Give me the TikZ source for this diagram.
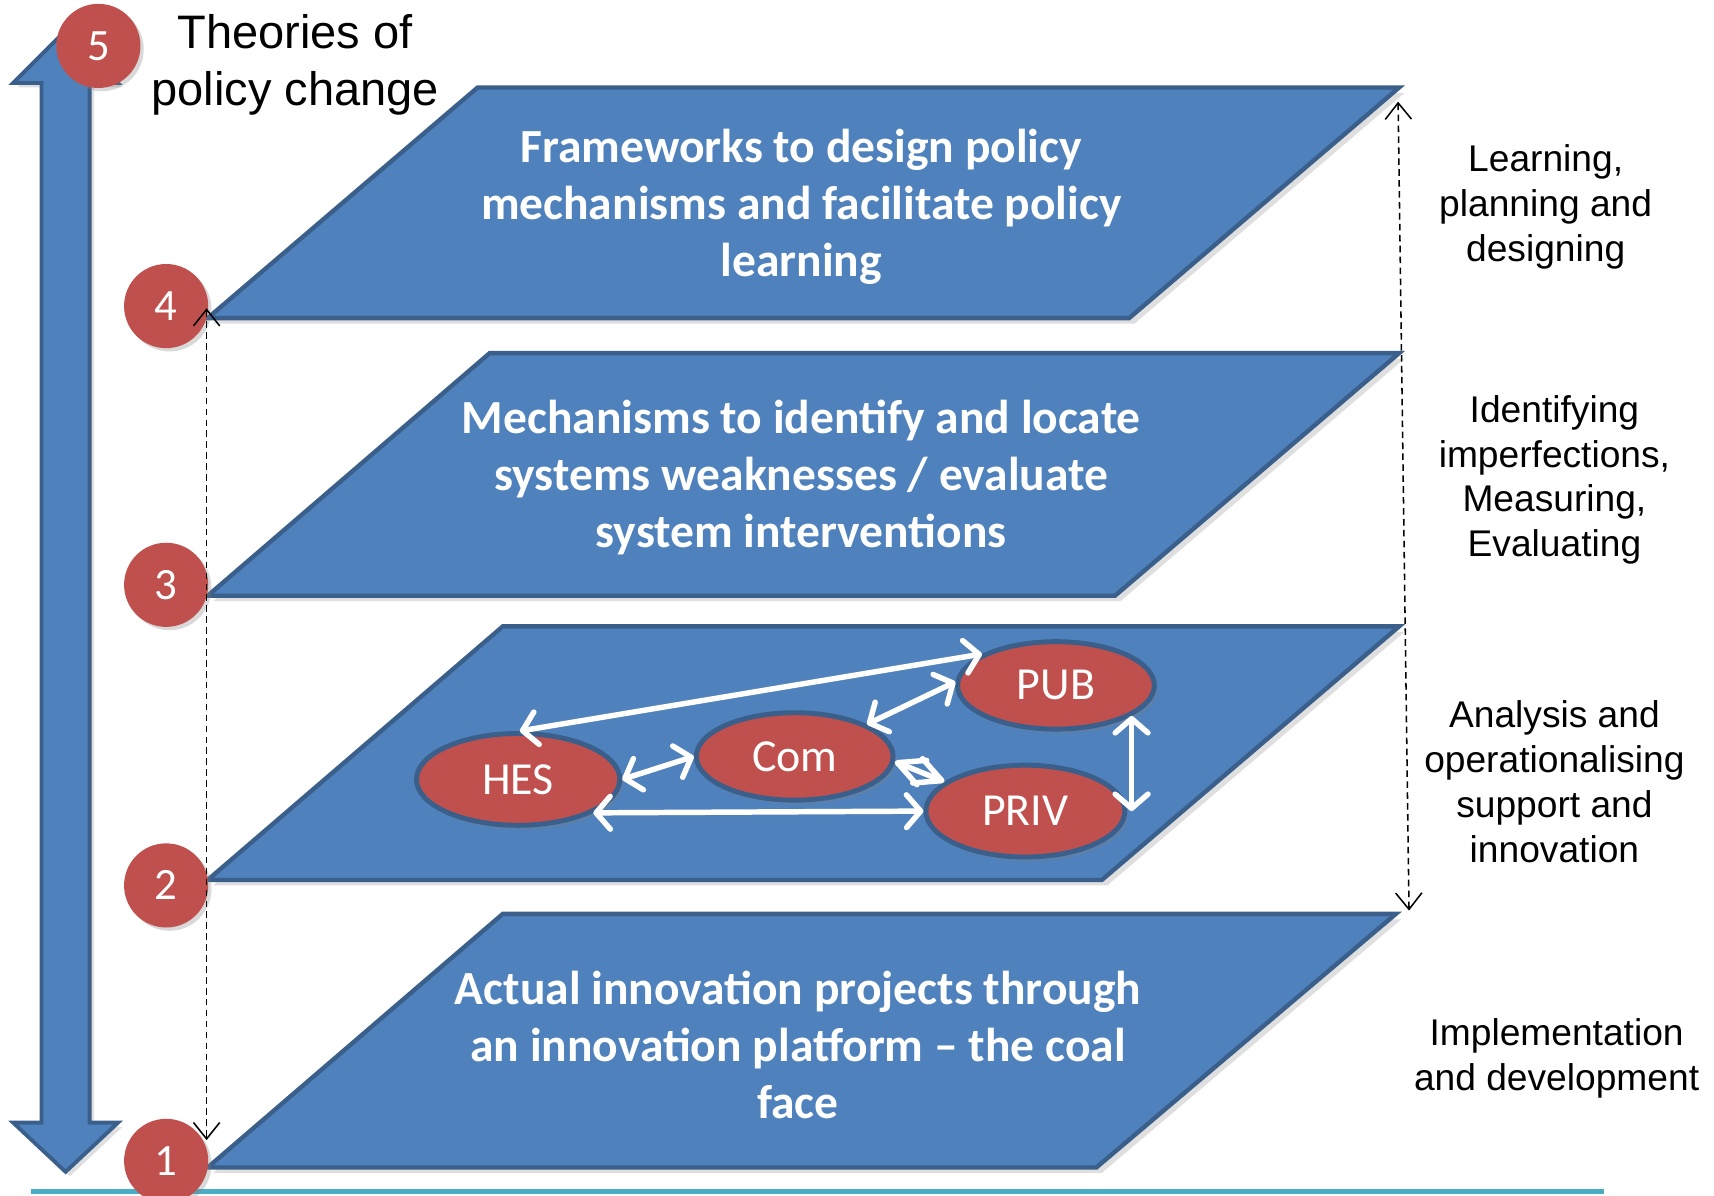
\documentclass[tikz,border=0pt]{standalone}
\usepackage{fontspec}
\setmainfont{Liberation Sans}
\newfontfamily\calfont{Carlito}
\usetikzlibrary{shapes.geometric,arrows.meta,shadows}
\definecolor{blueF}{HTML}{4F81BD}
\definecolor{blueD}{HTML}{3A5F8B}
\definecolor{redF}{HTML}{C0504D}
\definecolor{cyanL}{HTML}{4BACC6}
\tikzset{
  plate/.style={fill=blueF,draw=blueD,line width=4pt,line join=miter,
    drop shadow={opacity=0.25,shadow xshift=5pt,shadow yshift=-5pt}},
  platetext/.style={text=white,align=center,font=\calfont\bfseries\fontsize{43.5}{52}\selectfont},
  numdot/.style={circle,fill=redF,minimum size=77pt,inner sep=0pt,text=white,
    font=\calfont\fontsize{41}{48}\selectfont,
    drop shadow={opacity=0.3,shadow xshift=3pt,shadow yshift=-3pt}},
  actor/.style={ellipse,fill=redF,draw=blueD,line width=4.5pt,inner sep=0pt,text=white,
    font=\calfont\fontsize{42}{50}\selectfont,
    drop shadow={opacity=0.3,shadow xshift=3pt,shadow yshift=-4pt}},
  link/.style={white,line width=5pt,line cap=round,
    {Straight Barb[length=13pt,width=30pt,round]}-{Straight Barb[length=13pt,width=30pt,round]}},
  shortlink/.style={white,line width=5pt,line cap=round,
    {Straight Barb[length=24pt,width=24pt,round]}-{Straight Barb[length=24pt,width=24pt,round]}},
  guide/.style={black,line width=1.4pt,dash pattern=on 6pt off 4pt,
    {Straight Barb[length=15pt,width=24pt,line width=1.4pt]}-{Straight Barb[length=15pt,width=24pt,line width=1.4pt]}},
  sidelabel/.style={align=center,font=\fontsize{34}{41}\selectfont},
}
\begin{document}
\begin{tikzpicture}[x=1pt,y=-1pt]
\useasboundingbox (0,0) rectangle (1568,1094);
% bottom line
\draw[cyanL,line width=4pt] (28,1090) -- (1467,1090);
% big double arrow
\path[fill=blueF,draw=blueD,line width=3.5pt,line join=miter,
  drop shadow={opacity=0.25,shadow xshift=4pt,shadow yshift=-4pt}]
  (60,28) -- (108,76) -- (82,76) -- (82,1027) -- (108,1027) -- (60,1072)
  -- (12,1027) -- (38,1027) -- (38,76) -- (12,76) -- cycle;
% plates
\path[plate] (437,80) -- (1280,80) -- (1033,291) -- (190,291) -- cycle;
\path[plate] (448,323) -- (1280,323) -- (1020,545) -- (190,545) -- cycle;
\path[plate] (460,573) -- (1280,573) -- (1008,805) -- (190,805) -- cycle;
\path[plate] (460,836) -- (1277,836) -- (1003,1068) -- (190,1068) -- cycle;
% plate texts
\node[platetext] (t4) at (733,189) {Frameworks to design policy\\mechanisms and facilitate policy\\learning};
\node[platetext] (t3) at (733,437) {Mechanisms to identify and locate\\systems weaknesses / evaluate\\system interventions};
\node[platetext] (t1) at (730,956) {Actual innovation projects through\\an innovation platform – the coal\\face};
% actors
\node[actor,minimum width=186pt,minimum height=84pt] (HES) at (474,713) {HES};
\node[actor,minimum width=180pt,minimum height=80pt] (Com) at (727,692) {Com};
\node[actor,minimum width=180pt,minimum height=80pt] (PUB) at (966,627) {PUB};
\node[actor,minimum width=182pt,minimum height=84pt] (PRIV) at (938,742) {PRIV};
\draw[link] (HES.88) -- (PUB.157);
\draw[link] (HES.0) -- (Com.180);
\draw[link] (HES.-24) -- (PRIV.180);
\draw[link] (Com.24) -- (PUB.178);
\draw[shortlink] (Com.-3) -- (PRIV.160);
\draw[link] (PUB.-22) -- (PUB.-22 |- PRIV.east);
% numbered dots
\node[numdot] (n5) at (90,42) {5};
\node[numdot] (n4) at (152,280) {4};
\node[numdot] (n3) at (152,535) {3};
\node[numdot] (n2) at (152,810) {2};
\node[numdot] (n1) at (152,1062) {1};
% title
\node[align=center,font=\fontsize{43}{52}\selectfont] (title) at (270,59) {Theories of\\policy change};
% guides
\coordinate (gl1) at (189,282);
\coordinate (gl2) at (189,1043);
\coordinate (gr1) at (1279,93);
\coordinate (gr2) at (1289,833);
\draw[guide] (gl1) -- (gl2);
\draw[guide] (gr1) -- (gr2);
% side labels
\node[sidelabel] (s4) at (1414,189) {Learning,\\planning and\\designing};
\node[sidelabel] (s3) at (1422,439) {Identifying\\imperfections,\\Measuring,\\Evaluating};
\node[sidelabel] (s2) at (1422,715) {Analysis and\\operationalising\\support and\\innovation};
\node[sidelabel] (s1) at (1424,968) {Implementation\\and development};
\end{tikzpicture}
\end{document}
